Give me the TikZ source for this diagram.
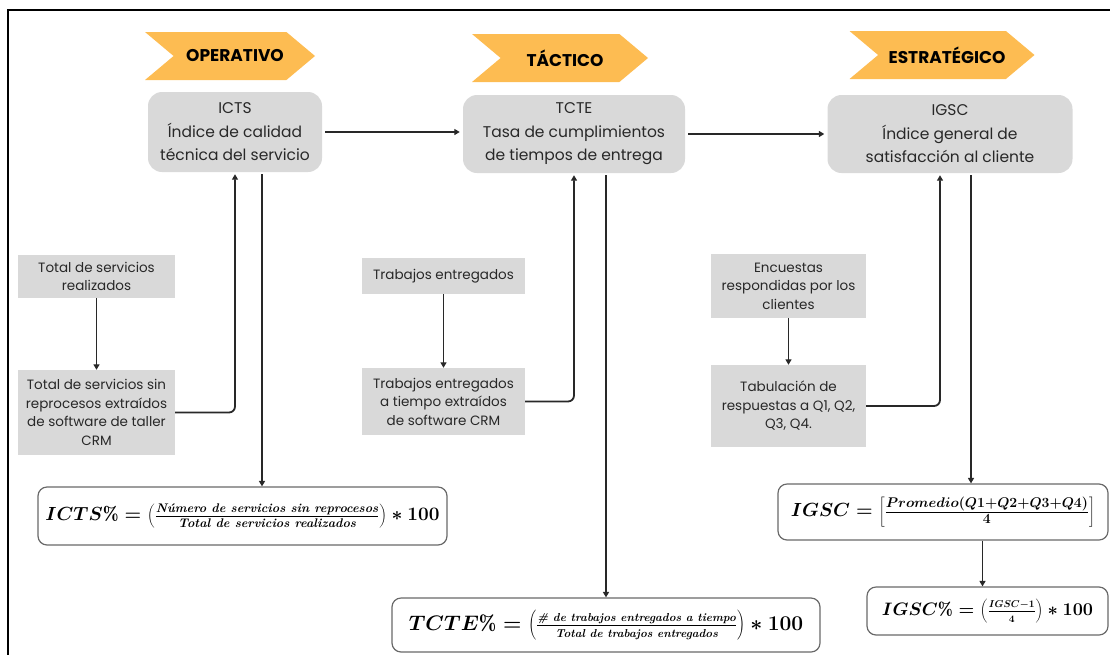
\RequirePackage{fix-cm}
\documentclass[tikz,border=0pt]{standalone}
\usepackage{fontspec}
\newfontfamily\boxfont{Poppins}
\usetikzlibrary{shapes.symbols,arrows.meta}
\definecolor{chevorange}{RGB}{253,188,82}
\definecolor{boxgray}{RGB}{217,217,217}
\definecolor{inkgray}{RGB}{40,40,40}
\definecolor{rimgray}{RGB}{105,105,105}
\newcommand{\fractxt}[2]{\mbox{\fontsize{#1}{#1}\selectfont\bfseries\itshape #2}}
\newcommand{\fracmath}[2]{\mbox{\fontsize{#1}{#1}\selectfont$#2$}}

\begin{document}
\begin{tikzpicture}[x=1pt, y=-1pt, >={Triangle[length=5.5pt,width=6pt]},
	chevron/.style={signal, signal from=west, signal to=east, signal pointer angle=80, fill=chevorange, inner sep=0pt, minimum height=48, font=\boxfont\bfseries\fontsize{17}{19}\selectfont},
	kpi/.style={rectangle, rounded corners=14, fill=boxgray, text=inkgray, align=center, inner sep=0pt, font=\boxfont\fontsize{15.5}{23.5}\selectfont},
	datum/.style={rectangle, fill=boxgray, text=inkgray, align=center, inner sep=0pt, font=\boxfont\fontsize{13.5}{18.5}\selectfont},
	formula/.style={rectangle, rounded corners=9, draw=rimgray, line width=1.2, fill=white, inner sep=0pt, font=\fontsize{19}{23}\selectfont\boldmath},
	link/.style={line width=1.8, draw=inkgray, rounded corners=6}]
		\useasboundingbox (0, 0) rectangle (1110, 654);
		\draw [line width=2.5] (8, 660) -- (8, 10) -- (1115, 10);
		% levels
		\path (230, 56) node(opr) [chevron, minimum width=170] {\hspace{10pt}OPERATIVO};
		\path (560, 58) node(tac) [chevron, minimum width=176] {\hspace{10pt}TÁCTICO};
		\path (942, 55) node(est) [chevron, minimum width=185] {\hspace{10pt}ESTRATÉGICO};
		% indicators
		\path (235, 132) node(icts) [kpi, minimum width=174, minimum height=80] {ICTS\\Índice de calidad\\técnica del servicio};
		\path (574, 134) node(tcte) [kpi, minimum width=222, minimum height=78] {TCTE\\Tasa de cumplimientos\\de tiempos de entrega};
		\path (950, 134) node(igsc) [kpi, minimum width=245, minimum height=78] {IGSC\\Índice general de\\satisfacción al cliente};
		% sources
		\path (96.5, 276.5) node(srvtot) [datum, minimum width=157, minimum height=43] {Total de servicios\\realizados};
		\path (96.5, 412.5) node(srvsin) [datum, minimum width=157, minimum height=85] {Total de servicios sin\\reprocesos extraídos\\de software de taller\\CRM};
		\path (443.5, 276) node(trab) [datum, minimum width=163, minimum height=36] {Trabajos entregados};
		\path (443.5, 401.5) node(trabt) [datum, minimum width=163, minimum height=67] {Trabajos entregados\\a tiempo extraídos\\de software CRM};
		\path (788.5, 286) node(enc) [datum, minimum width=155, minimum height=64] {Encuestas\\respondidas por los\\clientes};
		\path (788.5, 406) node(tab) [datum, minimum width=155, minimum height=82] {Tabulación de\\respuestas a Q1, Q2,\\Q3, Q4.};
		% formulas
		\path (242.5, 516) node(fic) [formula, minimum width=409, minimum height=58] {$ICTS\% = \left(\frac{\fractxt{12.5}{Número de servicios sin reprocesos}}{\fractxt{12.5}{Total de servicios realizados}}\right) * 100$};
		\path (606, 625) node(ftc) [formula, minimum width=428, minimum height=54, font=\fontsize{21}{25}\selectfont\boldmath] {$TCTE\% = \left(\frac{\fractxt{11.5}{\# de trabajos entregados a tiempo}}{\fractxt{11.5}{Total de trabajos entregados}}\right) * 100$};
		\path (943, 512) node(fig) [formula, minimum width=330, minimum height=56] {$IGSC = \left[\frac{\fracmath{14}{Promedio(Q1{+}Q2{+}Q3{+}Q4)}}{\fracmath{14}{4}}\right]$};
		\path (987.5, 611) node(fig2) [formula, minimum width=241, minimum height=48, font=\fontsize{18}{22}\selectfont\boldmath] {$IGSC\% = \left(\frac{\fracmath{10}{IGSC{-}1}}{\fracmath{10}{4}}\right) * 100$};
		% connectors
		\draw [link, ->, shorten <=3, shorten >=3] (icts.east) to (icts.east -| tcte.west);
		\draw [link, ->, shorten <=3, shorten >=3] (tcte.east) to (tcte.east -| igsc.west);
		\draw [link, ->] (srvtot) to (srvsin);
		\draw [link, ->] (trab) to (trabt);
		\draw [link, ->] (enc) to (tab);
		\draw [link, ->, shorten >=2] (srvsin.east) -| (icts.south);
		\draw [link, ->, shorten >=2] (trabt.east) -| (tcte.south);
		\draw [link, ->, shorten >=2] (tab.east) -| ([xshift=-10]igsc.south);
		\draw [link, ->, shorten <=2] ([xshift=27]icts.south) to ([xshift=27]icts.south |- fic.north);
		\draw [link, ->, shorten <=2] (tcte.south -| ftc.north) to (ftc.north);
		\draw [link, ->, shorten <=2] ([xshift=21]igsc.south) to ([xshift=21]igsc.south |- fig.north);
		\draw [link, ->] ([xshift=-5]fig2.north |- fig.south) to ([xshift=-5]fig2.north);
	\end{tikzpicture}
\end{document}
